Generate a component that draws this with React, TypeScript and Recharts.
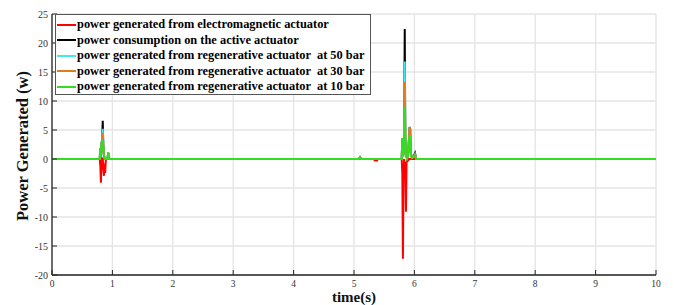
import React from "react";
import { LineChart, Line, XAxis, YAxis, CartesianGrid, Label } from "recharts";

const time = [
  0,
  0.78, 0.79, 0.8, 0.81, 0.82, 0.83, 0.84, 0.85, 0.86, 0.87, 0.88, 0.89, 0.9, 0.92, 0.93, 0.94, 0.96,
  5.08, 5.1, 5.12,
  5.32, 5.35, 5.38, 5.4,
  5.78, 5.79, 5.8, 5.81, 5.82, 5.83, 5.84, 5.85, 5.86, 5.87, 5.88, 5.89, 5.9, 5.91, 5.92, 5.93, 5.94, 5.96, 5.99, 6.01, 6.03,
  10,
];

const electromagnetic = [
  0,
  0, 0, -1.2, -4.1, 0.3, -1.5, 0.2, -1.8, -2.9, -0.8, -2.4, -0.3, 0, 0, 0, 0, 0,
  0, 0, 0,
  0, -0.25, -0.25, 0,
  0, 0, -2.5, -17.2, -3.0, 0, -3.5, -0.5, -9.1, -0.5, -0.2, -0.3, -0.2, 0, 0, 0, 0, 0, 0, 0, 0,
  0,
];

const consumption = [
  0,
  0, 0, 1.9, 0.4, 2.6, 3.3, 6.6, 2.2, 0.6, 0.2, 0, 0, 0, 0, 1.1, 0, 0,
  0, 0.3, 0,
  0, 0, 0, 0,
  0, 0, 3.6, 0.5, 1.2, 2.5, 22.4, 3.2, 0.3, 0.8, 0.2, 0.5, 1.5, 3.5, 5.5, 5.2, 1.0, 0.2, 0.5, 1.0, 0,
  0,
];

const regen50 = [
  0,
  0, 0, 1.9, 0.4, 2.6, 3.3, 5.2, 2.2, 0.6, 0.2, 0, 0, 0, 0, 1.1, 0, 0,
  0, 0.3, 0,
  0, 0, 0, 0,
  0, 0, 3.6, 0.5, 1.2, 2.5, 16.8, 3.2, 0.3, 0.8, 0.2, 0.5, 1.5, 3.5, 5.5, 5.2, 1.0, 0.2, 0.4, 0.8, 0,
  0,
];

const regen30 = [
  0,
  0, 0, 1.9, 0.4, 2.6, 3.3, 4.5, 2.2, 0.6, 0.2, 0, 0, 0, 0, 1.1, 0, 0,
  0, 0.3, 0,
  0, 0, 0, 0,
  0, 0, 3.6, 0.5, 1.2, 2.5, 13.3, 3.2, 0.3, 0.8, 0.2, 0.5, 1.5, 3.5, 5.5, 5.2, 1.0, 0.2, 0.4, 0.7, 0,
  0,
];

const regen10 = [
  0,
  0, 0, 1.9, 0.4, 2.6, 3.3, 3.0, 2.2, 0.6, 0.2, 0, 0, 0, 0, 1.1, 0, 0,
  0, 0.3, 0,
  0, 0, 0, 0,
  0, 0, 3.6, 0.5, 1.2, 2.5, 9.0, 3.0, 0.3, 0.8, 0.2, 0.5, 1.5, 3.2, 4.1, 3.8, 0.8, 0.2, 0.3, 0.6, 0,
  0,
];

const seriesNames = [
  "power generated from electromagnetic actuator",
  "power consumption on the active actuator",
  "power generated from regenerative actuator  at 50 bar",
  "power generated from regenerative actuator  at 30 bar",
  "power generated from regenerative actuator  at 10 bar",
];
const seriesKeys = ["em", "cons", "r50", "r30", "r10"];
const seriesColors = ["#ff0000", "#000000", "#3fe8f2", "#e07b22", "#33dd22"];

const xTicks = [0, 1, 2, 3, 4, 5, 6, 7, 8, 9, 10];
const yTicks = [-20, -15, -10, -5, 0, 5, 10, 15, 20, 25];

const data = time.map((t, i) => ({
  t,
  em: electromagnetic[i],
  cons: consumption[i],
  r50: regen50[i],
  r30: regen30[i],
  r10: regen10[i],
}));

const AXIS = "#262626";
const FONT = "'Liberation Serif', 'Times New Roman', serif";

const BottomTick = (p: any) => (
  <g>
    <line x1={p.x} y1={p.y} x2={p.x} y2={p.y - 5} stroke={AXIS} strokeWidth={1} />
    <text x={p.x} y={p.y + 12} textAnchor="middle" fontSize={9.5} fill="#333" fontFamily={FONT}>
      {p.payload.value}
    </text>
  </g>
);
const TopTick = (p: any) => (
  <line x1={p.x} y1={p.y} x2={p.x} y2={p.y + 5} stroke={AXIS} strokeWidth={1} />
);
const LeftTick = (p: any) => (
  <g>
    <line x1={p.x} y1={p.y} x2={p.x + 5} y2={p.y} stroke={AXIS} strokeWidth={1} />
    <text x={p.x - 4} y={p.y + 3.5} textAnchor="end" fontSize={10} fill="#333" fontFamily={FONT}>
      {p.payload.value}
    </text>
  </g>
);
const RightTick = (p: any) => (
  <line x1={p.x} y1={p.y} x2={p.x - 5} y2={p.y} stroke={AXIS} strokeWidth={1} />
);

export default function App() {
  return (
    <div style={{ position: "absolute", left: 0, top: 0, width: 674, height: 305, background: "#fff" }}>
      <LineChart
        width={674}
        height={305}
        data={data}
        margin={{ top: 14, right: 18, bottom: 0, left: 0 }}
      >
        <CartesianGrid stroke="#e4e4e4" strokeWidth={1.3} />
        <XAxis
          dataKey="t"
          type="number"
          domain={[0, 10]}
          ticks={xTicks}
          interval={0}
          height={30}
          tickSize={0}
          tickMargin={0}
          tickLine={false}
          axisLine={{ stroke: AXIS, strokeWidth: 1.3 }}
          tick={BottomTick}
          allowDataOverflow
        >
          <Label
            content={(props: any) => {
              const vb = props.viewBox;
              return (
                <text
                  x={vb.x + vb.width / 2}
                  y={302}
                  textAnchor="middle"
                  fontSize={15}
                  fontWeight="bold"
                  fill="#111"
                  fontFamily={FONT}
                >
                  time(s)
                </text>
              );
            }}
          />
        </XAxis>
        <XAxis
          xAxisId="top"
          orientation="top"
          dataKey="t"
          type="number"
          domain={[0, 10]}
          ticks={xTicks}
          interval={0}
          height={0}
          tickSize={0}
          tickMargin={0}
          tickLine={false}
          axisLine={{ stroke: AXIS, strokeWidth: 1.3 }}
          tick={TopTick}
          allowDataOverflow
        />
        <YAxis
          type="number"
          domain={[-20, 25]}
          ticks={yTicks}
          interval={0}
          width={52}
          tickSize={0}
          tickMargin={0}
          tickLine={false}
          axisLine={{ stroke: AXIS, strokeWidth: 1.3 }}
          tick={LeftTick}
          allowDataOverflow
        >
          <Label
            content={(props: any) => {
              const vb = props.viewBox;
              const cx = 22;
              const cy = vb.y + vb.height / 2 + 1.5;
              return (
                <text
                  x={cx}
                  y={cy}
                  transform={`rotate(-90, ${cx}, ${cy})`}
                  textAnchor="middle"
                  dominantBaseline="central"
                  fontSize={16.5}
                  fontWeight="bold"
                  fill="#111"
                  fontFamily={FONT}
                >
                  Power Generated (w)
                </text>
              );
            }}
          />
        </YAxis>
        <YAxis
          yAxisId="right"
          orientation="right"
          type="number"
          domain={[-20, 25]}
          ticks={yTicks}
          interval={0}
          width={0}
          tickSize={0}
          tickMargin={0}
          tickLine={false}
          axisLine={{ stroke: AXIS, strokeWidth: 1.3 }}
          tick={RightTick}
          allowDataOverflow
        />
        {seriesKeys.map((k, i) => (
          <Line
            key={k}
            dataKey={k}
            type="linear"
            stroke={seriesColors[i]}
            strokeWidth={2}
            dot={false}
            activeDot={false}
            isAnimationActive={false}
          />
        ))}
      </LineChart>
      <div
        style={{
          position: "absolute",
          left: 55,
          top: 14,
          width: 316,
          height: 81,
          border: "1px solid #555",
          background: "#fff",
          boxSizing: "border-box",
          paddingTop: 2,
        }}
      >
        {seriesNames.map((n, i) => (
          <div key={n} style={{ display: "flex", alignItems: "center", height: 15.5 }}>
            <div style={{ width: 19, height: 2, background: seriesColors[i], marginLeft: 1, marginRight: 1 }} />
            <span
              style={{
                fontFamily: FONT,
                fontWeight: "bold",
                fontSize: 12.4,
                color: "#000",
                whiteSpace: "pre",
                lineHeight: "15px",
              }}
            >
              {n}
            </span>
          </div>
        ))}
      </div>
    </div>
  );
}
